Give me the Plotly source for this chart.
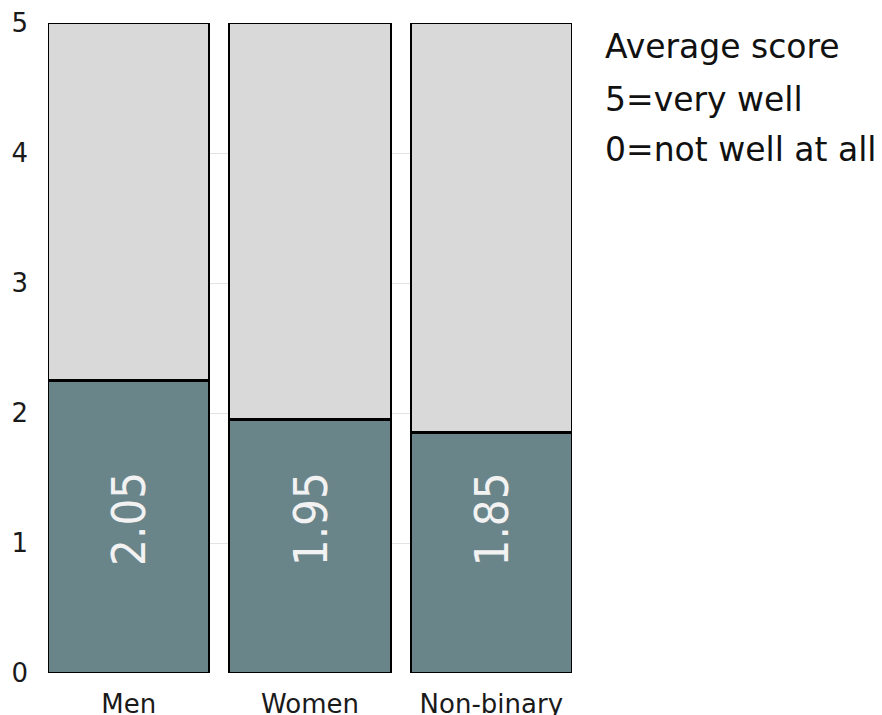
import plotly.graph_objects as go

categories = ["Men", "Women", "Non-binary"]
scores = [2.25, 1.95, 1.85]
score_labels = ["2.05", "1.95", "1.85"]
scale_max = 5
remainder = [scale_max - s for s in scores]
y_ticks = [0, 1, 2, 3, 4, 5]
note_lines = ["Average score", "5=very well", "0=not well at all"]
note_y = [4.82, 4.415, 4.03]
label_top_y = 1.56

FONT = "DejaVu Sans"

fig = go.Figure()
fig.add_trace(go.Bar(
    x=categories, y=scores,
    marker=dict(color="#6a858a", line=dict(color="#000000", width=2.2)),
    hoverinfo="skip",
))
fig.add_trace(go.Bar(
    x=categories, y=remainder,
    marker=dict(color="#d9d9d9", line=dict(color="#000000", width=2.2)),
    hoverinfo="skip",
))

for cat, lab in zip(categories, score_labels):
    fig.add_annotation(
        text=lab, x=cat, xref="x", y=label_top_y, yref="y",
        xanchor="center", yanchor="top", showarrow=False, textangle=-90,
        font=dict(family="DejaVu Sans Condensed", size=47, color="#f2f2f2"),
    )

for txt, yy in zip(note_lines, note_y):
    fig.add_annotation(
        text=txt, x=1.059, xref="paper", y=yy, yref="y",
        xanchor="left", yanchor="middle", showarrow=False,
        font=dict(family=FONT, size=33, color="#111111"),
    )

fig.update_layout(
    barmode="stack",
    bargap=0.11,
    width=882, height=715,
    margin=dict(l=40, r=318, t=15, b=50, autoexpand=False),
    plot_bgcolor="white", paper_bgcolor="white",
    showlegend=False,
    font=dict(family=FONT, color="#111111"),
    xaxis=dict(
        type="category", range=[-0.445, 2.445], automargin=False,
        showgrid=False, showline=False, zeroline=False,
        tickfont=dict(family=FONT, size=26, color="#1a1a1a"),
        ticks="", ticklabelstandoff=13,
    ),
    yaxis=dict(
        range=[0, 5], tickvals=y_ticks, automargin=False,
        showgrid=True, gridcolor="#e3e3e3", gridwidth=1,
        zeroline=False, showline=False, ticks="",
        tickfont=dict(family=FONT, size=26, color="#1a1a1a"),
        ticklabelstandoff=19,
    ),
)

fig.write_html("out.html")
